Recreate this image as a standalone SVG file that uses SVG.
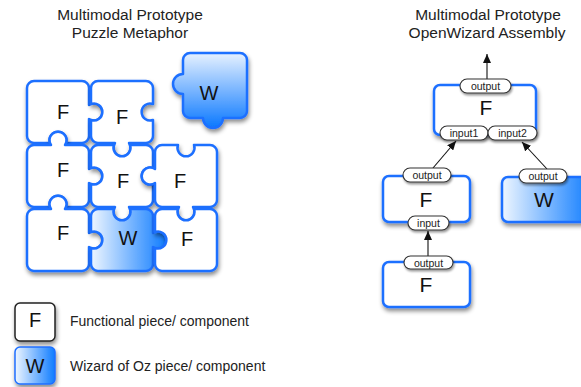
<svg xmlns="http://www.w3.org/2000/svg" width="581" height="387" viewBox="0 0 581 387">
<defs>
<style>
.pz{fill:#fff;stroke:#1f6fff;stroke-width:2.5;stroke-linejoin:round;filter:url(#sh)}
.box{fill:#fff;stroke:#1f6fff;stroke-width:2.5;filter:url(#sh)}
.pill{fill:#fff;stroke:#333;stroke-width:1.1;filter:url(#sh2)}
.big{font-family:"Liberation Sans",Arial,sans-serif;font-size:20px;fill:#111;text-anchor:middle}
.big2{font-family:"Liberation Sans",Arial,sans-serif;font-size:21px;fill:#111;text-anchor:middle}
.pt{font-family:"Liberation Sans",Arial,sans-serif;font-size:10.5px;fill:#222;text-anchor:middle}
.title{font-family:"Liberation Sans",Arial,sans-serif;font-size:15.5px;fill:#222;text-anchor:middle}
.leg{font-family:"Liberation Sans",Arial,sans-serif;font-size:14px;fill:#222}
.con{stroke:#111;stroke-width:1.1;fill:none;marker-end:url(#ah)}
</style>
<filter id="sh" x="-20%" y="-20%" width="140%" height="150%"><feDropShadow dx="1" dy="3" stdDeviation="2" flood-color="#000" flood-opacity="0.45"/></filter>
<filter id="sh2" x="-20%" y="-30%" width="140%" height="170%"><feDropShadow dx="1" dy="2" stdDeviation="1.2" flood-color="#000" flood-opacity="0.4"/></filter>
<linearGradient id="gh" x1="0" y1="0" x2="1" y2="0"><stop offset="0" stop-color="#eef6ff"/><stop offset="1" stop-color="#0f7cff"/></linearGradient>
<linearGradient id="gv" x1="0" y1="0" x2="0" y2="1"><stop offset="0" stop-color="#e6f1ff"/><stop offset="1" stop-color="#0a78ff"/></linearGradient>
<marker id="ah" markerUnits="userSpaceOnUse" markerWidth="10" markerHeight="8" refX="9" refY="4" orient="auto"><path d="M0,0 L9,4 L0,8 Z" fill="#111"/></marker>
</defs>
<rect width="581" height="387" fill="#fff"/>

<text class="title" x="130" y="19.5">Multimodal Prototype</text>
<text class="title" x="130" y="38">Puzzle Metaphor</text>
<text class="title" x="488" y="19.5">Multimodal Prototype</text>
<text class="title" x="487" y="38">OpenWizard Assembly</text>

<g id="p00"><path class="pz" d="M34,81 H82 A7 7 0 0 1 89,88 V105 A8.5 8.5 0 1 1 89,119 V136 A7 7 0 0 1 82,143 H66 A8.5 8.5 0 1 0 50,143 H34 A7 7 0 0 1 27,136 V88 A7 7 0 0 1 34,81 Z"/><text class="big" x="63" y="119">F</text></g>
<g id="p01"><path class="pz" d="M98,81 H146 A7 7 0 0 1 153,88 V104 A8.5 8.5 0 1 0 153,120 V136 A7 7 0 0 1 146,143 H129 A8.5 8.5 0 1 1 115,143 H98 A7 7 0 0 1 91,136 V120 A8.5 8.5 0 1 0 91,104 V88 A7 7 0 0 1 98,81 Z"/><text class="big" x="122" y="124">F</text></g>
<g id="p10"><path class="pz" d="M34,145 H51 A8.5 8.5 0 1 1 65,145 H82 A7 7 0 0 1 89,152 V169 A8.5 8.5 0 1 1 89,183 V200 A7 7 0 0 1 82,207 H66 A8.5 8.5 0 1 0 50,207 H34 A7 7 0 0 1 27,200 V152 A7 7 0 0 1 34,145 Z"/><text class="big" x="63" y="177">F</text></g>
<g id="p11"><path class="pz" d="M98,145 H114 A8.5 8.5 0 1 0 130,145 H146 A7 7 0 0 1 153,152 V168 A8.5 8.5 0 1 0 153,184 V200 A7 7 0 0 1 146,207 H129 A8.5 8.5 0 1 1 115,207 H98 A7 7 0 0 1 91,200 V184 A8.5 8.5 0 1 0 91,168 V152 A7 7 0 0 1 98,145 Z"/><text class="big" x="123" y="188">F</text></g>
<g id="p12"><path class="pz" d="M162,145 H178 A8.5 8.5 0 1 0 194,145 H210 A7 7 0 0 1 217,152 V200 A7 7 0 0 1 210,207 H193 A8.5 8.5 0 1 1 179,207 H162 A7 7 0 0 1 155,200 V183 A8.5 8.5 0 1 1 155,169 V152 A7 7 0 0 1 162,145 Z"/><text class="big" x="180" y="188">F</text></g>
<g id="p20"><path class="pz" d="M34,209 H51 A8.5 8.5 0 1 1 65,209 H82 A7 7 0 0 1 89,216 V233 A8.5 8.5 0 1 1 89,247 V264 A7 7 0 0 1 82,271 H34 A7 7 0 0 1 27,264 V216 A7 7 0 0 1 34,209 Z"/><text class="big" x="63" y="240">F</text></g>
<g id="p21"><path class="pz" style="fill:url(#gh)" d="M98,209 H114 A8.5 8.5 0 1 0 130,209 H146 A7 7 0 0 1 153,216 V233 A8.5 8.5 0 1 1 153,247 V264 A7 7 0 0 1 146,271 H98 A7 7 0 0 1 91,264 V248 A8.5 8.5 0 1 0 91,232 V216 A7 7 0 0 1 98,209 Z"/><text class="big" x="128" y="245">W</text></g>
<g id="p22"><path class="pz" d="M162,209 H178 A8.5 8.5 0 1 0 194,209 H210 A7 7 0 0 1 217,216 V264 A7 7 0 0 1 210,271 H162 A7 7 0 0 1 155,264 V248 A8.5 8.5 0 1 0 155,232 V216 A7 7 0 0 1 162,209 Z"/><text class="big" x="187" y="246">F</text></g>
<g id="pw"><path class="pz" style="fill:url(#gv)" d="M190,53 H240 A7 7 0 0 1 247,60 V111 A7 7 0 0 1 240,118 H223 A10 10 0 0 1 203,118 H190 A7 7 0 0 1 183,111 V94 A10 10 0 0 1 183,74 V60 A7 7 0 0 1 190,53 Z"/><text class="big" x="209" y="100">W</text></g>

<g id="connectors">
<line class="con" x1="487" y1="79" x2="487" y2="54"/>
<line class="con" x1="433" y1="168" x2="456" y2="141"/>
<line class="con" x1="547" y1="169" x2="522" y2="142"/>
<line class="con" x1="428" y1="256" x2="428" y2="231"/>
</g>

<g id="top">
<rect class="box" x="434" y="85" width="102" height="50" rx="6"/>
<text class="big2" x="486" y="115">F</text>
<rect class="pill" x="460" y="79" width="51" height="14" rx="7"/><text class="pt" x="485.5" y="90">output</text>
<rect class="pill" x="440" y="126" width="48" height="14" rx="7"/><text class="pt" x="464" y="137">input1</text>
<rect class="pill" x="488" y="126" width="49" height="14" rx="7"/><text class="pt" x="512.5" y="137">input2</text>
</g>
<g id="mid">
<rect class="box" x="383" y="176" width="87" height="46" rx="6"/>
<text class="big2" x="426" y="207">F</text>
<rect class="pill" x="403" y="168" width="48" height="14" rx="7"/><text class="pt" x="427" y="179">output</text>
<rect class="pill" x="408" y="216" width="41" height="14" rx="7"/><text class="pt" x="428.5" y="227">input</text>
</g>
<g id="bot">
<rect class="box" x="383" y="262" width="87" height="45" rx="6"/>
<text class="big2" x="426" y="292">F</text>
<rect class="pill" x="404" y="256" width="49" height="13" rx="6.5"/><text class="pt" x="428.5" y="266.5">output</text>
</g>
<g id="wbox">
<rect class="box" style="fill:url(#gh)" x="502" y="177" width="90" height="45" rx="6"/>
<text class="big2" x="544" y="207">W</text>
<rect class="pill" x="519" y="169" width="48" height="14" rx="7"/><text class="pt" x="543" y="180">output</text>
</g>

<g id="legF">
<rect x="15" y="303" width="40" height="38" rx="5" fill="#fff" stroke="#222" stroke-width="1.5" filter="url(#sh)"/>
<text class="big" x="35" y="327">F</text>
<text class="leg" x="70" y="326">Functional piece/ component</text>
</g>
<g id="legW">
<rect x="15" y="347" width="40" height="37" rx="5" fill="url(#gh)" stroke="#1f6fff" stroke-width="1.5" filter="url(#sh)"/>
<text class="big" x="35" y="373">W</text>
<text class="leg" x="70" y="371">Wizard of Oz piece/ component</text>
</g>
</svg>
